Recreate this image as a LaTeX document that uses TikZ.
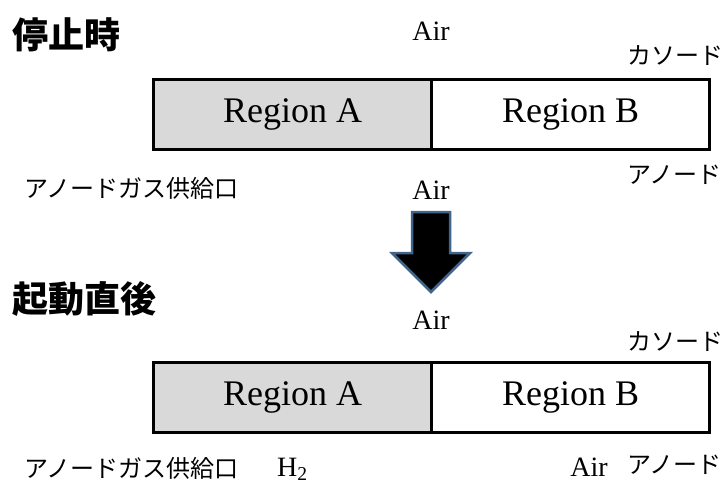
\documentclass[tikz,border=0pt]{standalone}
\usepackage{fontspec}
\setmainfont{Liberation Serif}
\newfontfamily\cjk{Noto Sans CJK JP}
\definecolor{grayA}{RGB}{217,217,217}
\definecolor{arrowedge}{RGB}{65,100,140}
\begin{document}
\begin{tikzpicture}[x=1pt,y=-1pt,
  regbox/.style={draw=black,line width=3pt,minimum width=278pt,minimum height=70pt,inner sep=0pt,font=\fontsize{36}{36}\selectfont,anchor=north west},
  lbl/.style={font=\fontsize{28}{28}\selectfont,inner sep=0pt},
  jp/.style={font=\cjk\fontsize{24}{24}\selectfont,inner sep=0pt},
  hdr/.style={font=\cjk\bfseries\fontsize{36}{36}\selectfont,inner sep=0pt,anchor=west}]
\useasboundingbox (0,0) rectangle (728,484);
% --- top
\node[hdr] (h1) at (12,35) {停止時};
\node[lbl] (air1) at (431,31) {Air};
\node[jp,anchor=west] (c1) at (627,56) {カソード};
\node[regbox,fill=grayA] (a1) at (152,78) {Region A};
\node[regbox,fill=white] (b1) at (430,78) {Region B};
\node[jp,anchor=west] (g1) at (24,188) {アノードガス供給口};
\node[lbl] (air2) at (431,190) {Air};
\node[jp,anchor=west] (an1) at (627,175) {アノード};
% arrow
\draw[fill=black,draw=arrowedge,line width=2.5pt,line join=miter]
  (412,212) -- (450,212) -- (450,253) -- (470,253) -- (431,292) -- (392,253) -- (412,253) -- cycle;
% --- bottom
\node[hdr] (h2) at (12,299) {起動直後};
\node[lbl] (air3) at (431,320) {Air};
\node[jp,anchor=west] (c2) at (627,342) {カソード};
\node[regbox,fill=grayA] (a2) at (152,361) {Region A};
\node[regbox,fill=white] (b2) at (430,361) {Region B};
\node[jp,anchor=west] (g2) at (24,468) {アノードガス供給口};
\node[lbl,anchor=base west] (h2lbl) at (277,476) {H\textsubscript{2}};
\node[lbl,anchor=base] (air4) at (589,476) {Air};
\node[jp,anchor=west] (an2) at (627,465) {アノード};
\end{tikzpicture}
\end{document}
